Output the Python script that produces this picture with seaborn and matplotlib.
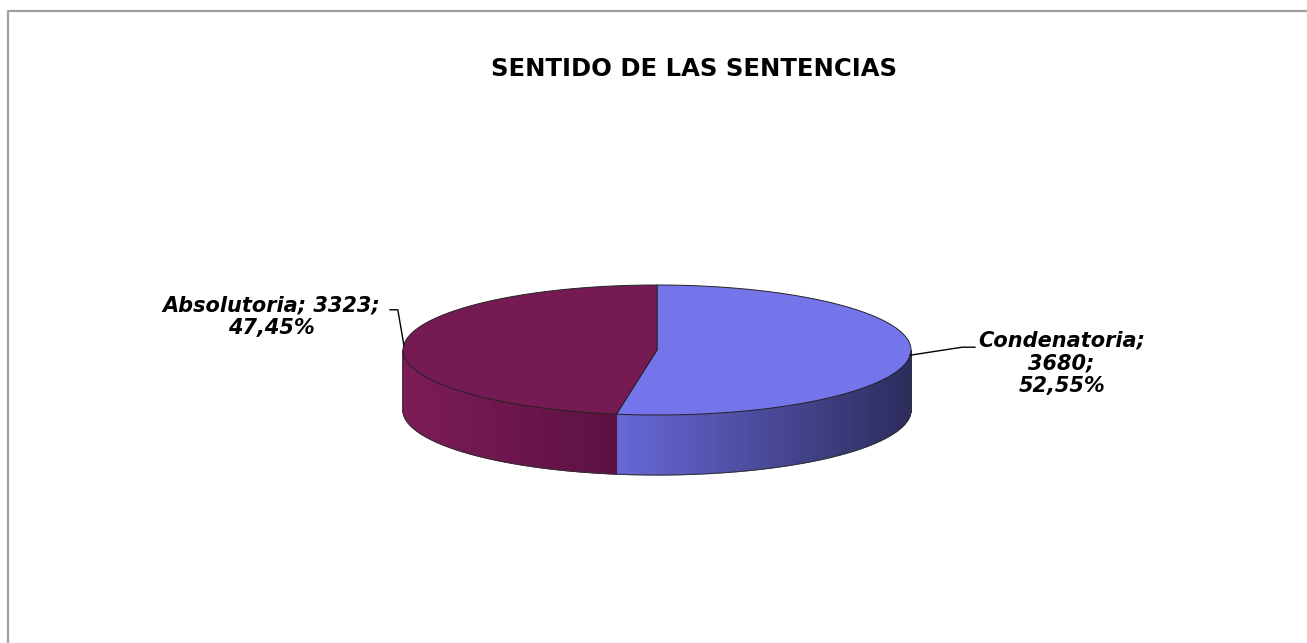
import numpy as np
import matplotlib
matplotlib.use("Agg")
import matplotlib.pyplot as plt
import seaborn as sns
from matplotlib.colors import to_rgb
from matplotlib.patches import Polygon

# data
categorias = ["Condenatoria", "Absolutoria"]
valores = [3680, 3323]
colores_top = ["#7575eb", "#761a53"]
colores_lado = [("#6868d8", "#2c2c5c"), ("#7c1c58", "#5c1141")]
titulo = "SENTIDO DE LAS SENTENCIAS"

sns.set_theme(style="white")
plt.rcParams['font.family'] = ['DejaVu Sans']
plt.rcParams['text.color'] = 'black'

W, H = 1307, 643
fig = plt.figure(figsize=(W / 100, H / 100), dpi=100)
ax = fig.add_axes([0, 0, 1, 1])
ax.set_xlim(0, W)
ax.set_ylim(H, 0)
ax.axis('off')

# frame (only top and left visible)
ax.plot([7.5, 7.5, W + 5], [H + 5, 11, 11], color="#a0a0a0", lw=1.6, zorder=1)

ax.text(694, 69, titulo, ha='center', va='center', fontsize=17.5, fontweight='bold', color='black')

# 3d pie geometry
cx, cy, ra, rb, depth = 657, 350, 254, 65, 60


def pt(t, dy=0.0):
    t = np.radians(t)
    return cx + ra * np.sin(t), cy - rb * np.cos(t) + dy


total = sum(valores)
fracs = [v / total for v in valores]
bounds = np.concatenate([[0], np.cumsum(fracs) * 360])

# side walls (front half 90..270)
for i in range(len(valores)):
    t0, t1 = max(bounds[i], 90), min(bounds[i + 1], 270)
    if t1 <= t0:
        continue
    ts = np.linspace(t0, t1, 150)
    xs = [pt(t)[0] for t in ts]
    xmin, xmax = min(xs), max(xs)
    c_l, c_r = np.array(to_rgb(colores_lado[i][0])), np.array(to_rgb(colores_lado[i][1]))
    for a0, a1 in zip(ts[:-1], ts[1:]):
        xm = (pt(a0)[0] + pt(a1)[0]) / 2
        f = (xm - xmin) / (xmax - xmin)
        col = c_l + (c_r - c_l) * f
        poly = [pt(a0), pt(a1), pt(a1, depth), pt(a0, depth)]
        ax.add_patch(Polygon(poly, closed=True, facecolor=col, edgecolor=col, lw=0.8, zorder=2))

# outer vertical edges and bottom outline
for t in (90, 270):
    x0, y0 = pt(t)
    ax.plot([x0, x0], [y0, y0 + depth], color="#333333", lw=0.6, zorder=3)
ts = np.linspace(90, 270, 200)
ax.plot([pt(t, depth)[0] for t in ts], [pt(t, depth)[1] for t in ts], color="#333333", lw=0.7, zorder=3)

# top face
for i in range(len(valores)):
    ts = np.linspace(bounds[i], bounds[i + 1], 200)
    poly = [(cx, cy)] + [pt(t) for t in ts]
    ax.add_patch(Polygon(poly, closed=True, facecolor=colores_top[i], edgecolor="#222222",
                         lw=0.7, zorder=4))

# labels with leader lines
for i, (cat, v, f) in enumerate(zip(categorias, valores, fracs)):
    mid = (bounds[i] + bounds[i + 1]) / 2
    ax_, ay_ = pt(mid)
    pct = f"{f * 100:.2f}".replace(".", ",") + "%"
    if ax_ > cx:
        ax.plot([ax_, ax_ + 52, ax_ + 65], [ay_, ay_ - 8, ay_ - 8], color="black", lw=1, zorder=5)
        ax.text(ax_ + 68, ay_ + 8, f"{cat};\n{v};\n{pct}", ha='left', va='center',
                multialignment='center', fontsize=15, fontweight='bold', style='italic',
                linespacing=1.15, color='black')
    else:
        ax.plot([ax_, ax_ - 6, ax_ - 14], [ay_, ay_ - 35, ay_ - 35], color="black", lw=1, zorder=5)
        ax.text(ax_ - 24, ay_ - 28, f"{cat}; {v};\n{pct}", ha='right', va='center',
                multialignment='center', fontsize=15, fontweight='bold', style='italic',
                linespacing=1.15, color='black')

fig.savefig("out.png", dpi=100)
